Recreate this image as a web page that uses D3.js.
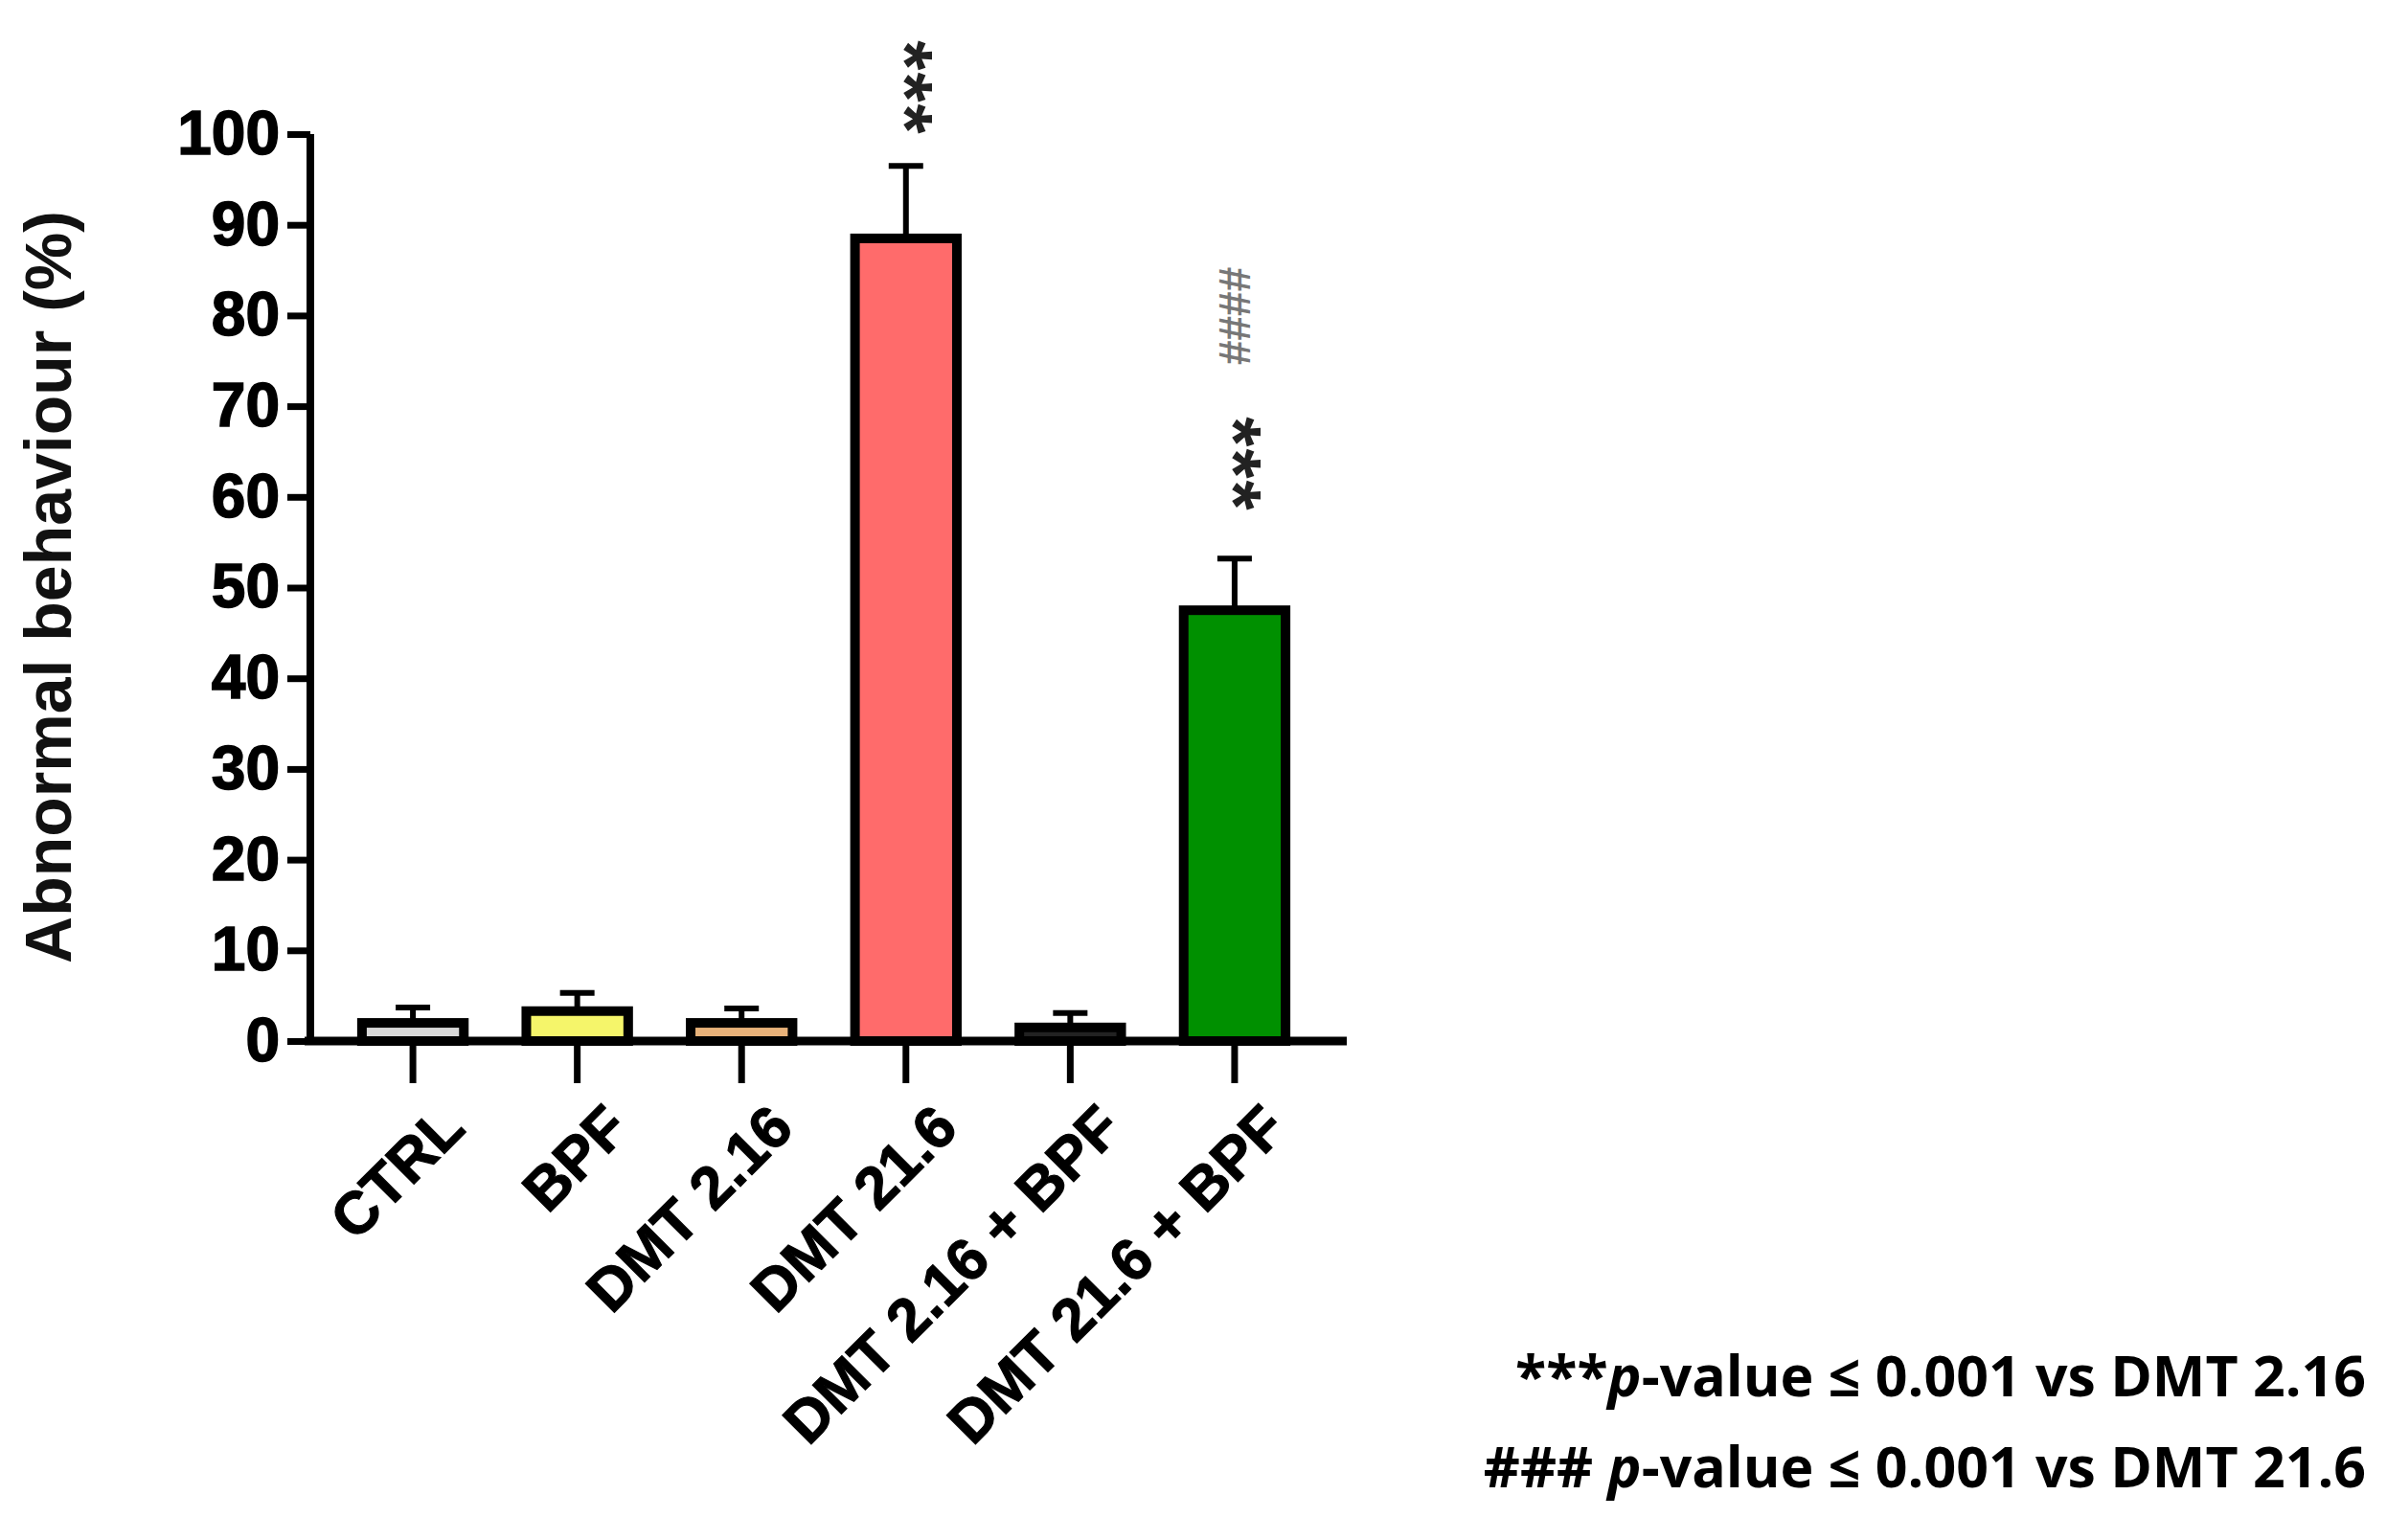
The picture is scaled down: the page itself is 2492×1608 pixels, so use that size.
<!DOCTYPE html>
<html><head><meta charset="utf-8">
<script src="https://cdn.jsdelivr.net/npm/d3@7"></script>
<style>body{margin:0;background:#fff}</style></head>
<body><svg id="c" width="2492" height="1608"></svg>
<script>
const categories = ["CTRL","BPF","DMT 2.16","DMT 21.6","DMT 2.16 + BPF","DMT 21.6 + BPF"];
const means = [2, 3.3, 2, 88.5, 1.5, 47.5];
const errors = [1.7, 2, 1.6, 8, 1.6, 5.7];
const colors = ["#d9d9d9","#f5f56a","#e8b27a","#ff6b6b","#222222","#009000"];
const yTicks = [0,10,20,30,40,50,60,70,80,90,100];
const footnotes = ["***", "###"];

const svg = d3.select("#c");
const x = d3.scaleBand().domain(categories).range([335,1385]).paddingInner(0.38).paddingOuter(0.25);
const y = d3.scaleLinear().domain([0,100]).range([1087,140]);
const font = "'Liberation Sans', Arial, sans-serif";

const yAx = svg.append("g").attr("transform","translate(324,0)")
  .call(d3.axisLeft(y).tickValues(yTicks).tickSize(24).tickPadding(8));
yAx.select(".domain").attr("stroke","#000").attr("stroke-width",8).attr("d","M0,140V1087");
yAx.selectAll(".tick line").attr("stroke-width",7);
yAx.selectAll("text").attr("font-family",font).attr("font-weight","bold").attr("font-size",64)
  .attr("fill","#000").attr("stroke","#000").attr("stroke-width",1.5);

const bw = x.bandwidth();
svg.selectAll("rect.bar").data(categories).join("rect")
  .attr("x",d=>x(d)).attr("width",bw)
  .attr("y",(d,i)=>y(means[i])).attr("height",(d,i)=>y(0)-y(means[i]))
  .attr("fill",(d,i)=>colors[i]).attr("stroke","#000").attr("stroke-width",10);
categories.forEach((c,i)=>{
  const cx = x(c)+bw/2;
  svg.append("line").attr("x1",cx).attr("x2",cx).attr("y1",y(means[i])).attr("y2",y(means[i]+errors[i])).attr("stroke","#000").attr("stroke-width",6);
  svg.append("line").attr("x1",cx-18).attr("x2",cx+18).attr("y1",y(means[i]+errors[i])).attr("y2",y(means[i]+errors[i])).attr("stroke","#000").attr("stroke-width",6);
});

const xAx = svg.append("g").attr("transform","translate(0,1087)")
  .call(d3.axisBottom(x).tickSize(44).tickFormat(""));
xAx.select(".domain").attr("stroke","#000").attr("stroke-width",9).attr("d","M318,0H1406");
xAx.selectAll(".tick line").attr("stroke-width",7);
categories.forEach(c=>{
  const cx = x(c)+bw/2;
  svg.append("text").attr("transform",`translate(${cx+26},${1150}) rotate(-45)`)
    .attr("text-anchor","end").attr("dy","0.7em")
    .attr("font-family",font).attr("font-weight","bold").attr("font-size",62)
    .attr("stroke","#000").attr("stroke-width",1.2).text(c);
});

svg.append("text").attr("transform","translate(74,613) rotate(-90)").attr("text-anchor","middle")
  .attr("font-family",font).attr("font-size",68).attr("font-weight","bold").attr("fill","#111").text("Abnormal behaviour (%)");

function vmark(cat, yc, txt, col, fs, ls){
  svg.append("text").attr("transform",`translate(${x(cat)+bw/2},${yc}) rotate(90)`)
    .attr("text-anchor","middle").attr("dy","0.35em").attr("font-family",font).attr("font-weight","bold")
    .attr("font-size",fs).attr("fill",col).attr("letter-spacing",ls).text(txt);
}
vmark("DMT 21.6", 92, "***", "#222", 80, 2);
vmark("DMT 21.6 + BPF", 485, "***", "#222", 80, 2);
vmark("DMT 21.6 + BPF", 330, "####", "#777", 46, 0);

const ff = "'Open Sans', 'Noto Sans', sans-serif";
[[footnotes[0],"p","-value ≤ 0.001 vs DMT 2.16",1458],[footnotes[1]+" ","p","-value ≤ 0.001 vs DMT 21.6",1553]].forEach(([a,p,b,yy])=>{
  const t = svg.append("text").attr("x",2470).attr("y",yy).attr("text-anchor","end")
    .attr("font-family",ff).attr("font-weight","bold").attr("font-size",59);
  t.append("tspan").text(a);
  t.append("tspan").attr("font-style","italic").text(p);
  t.append("tspan").text(b);
});
</script></body></html>
